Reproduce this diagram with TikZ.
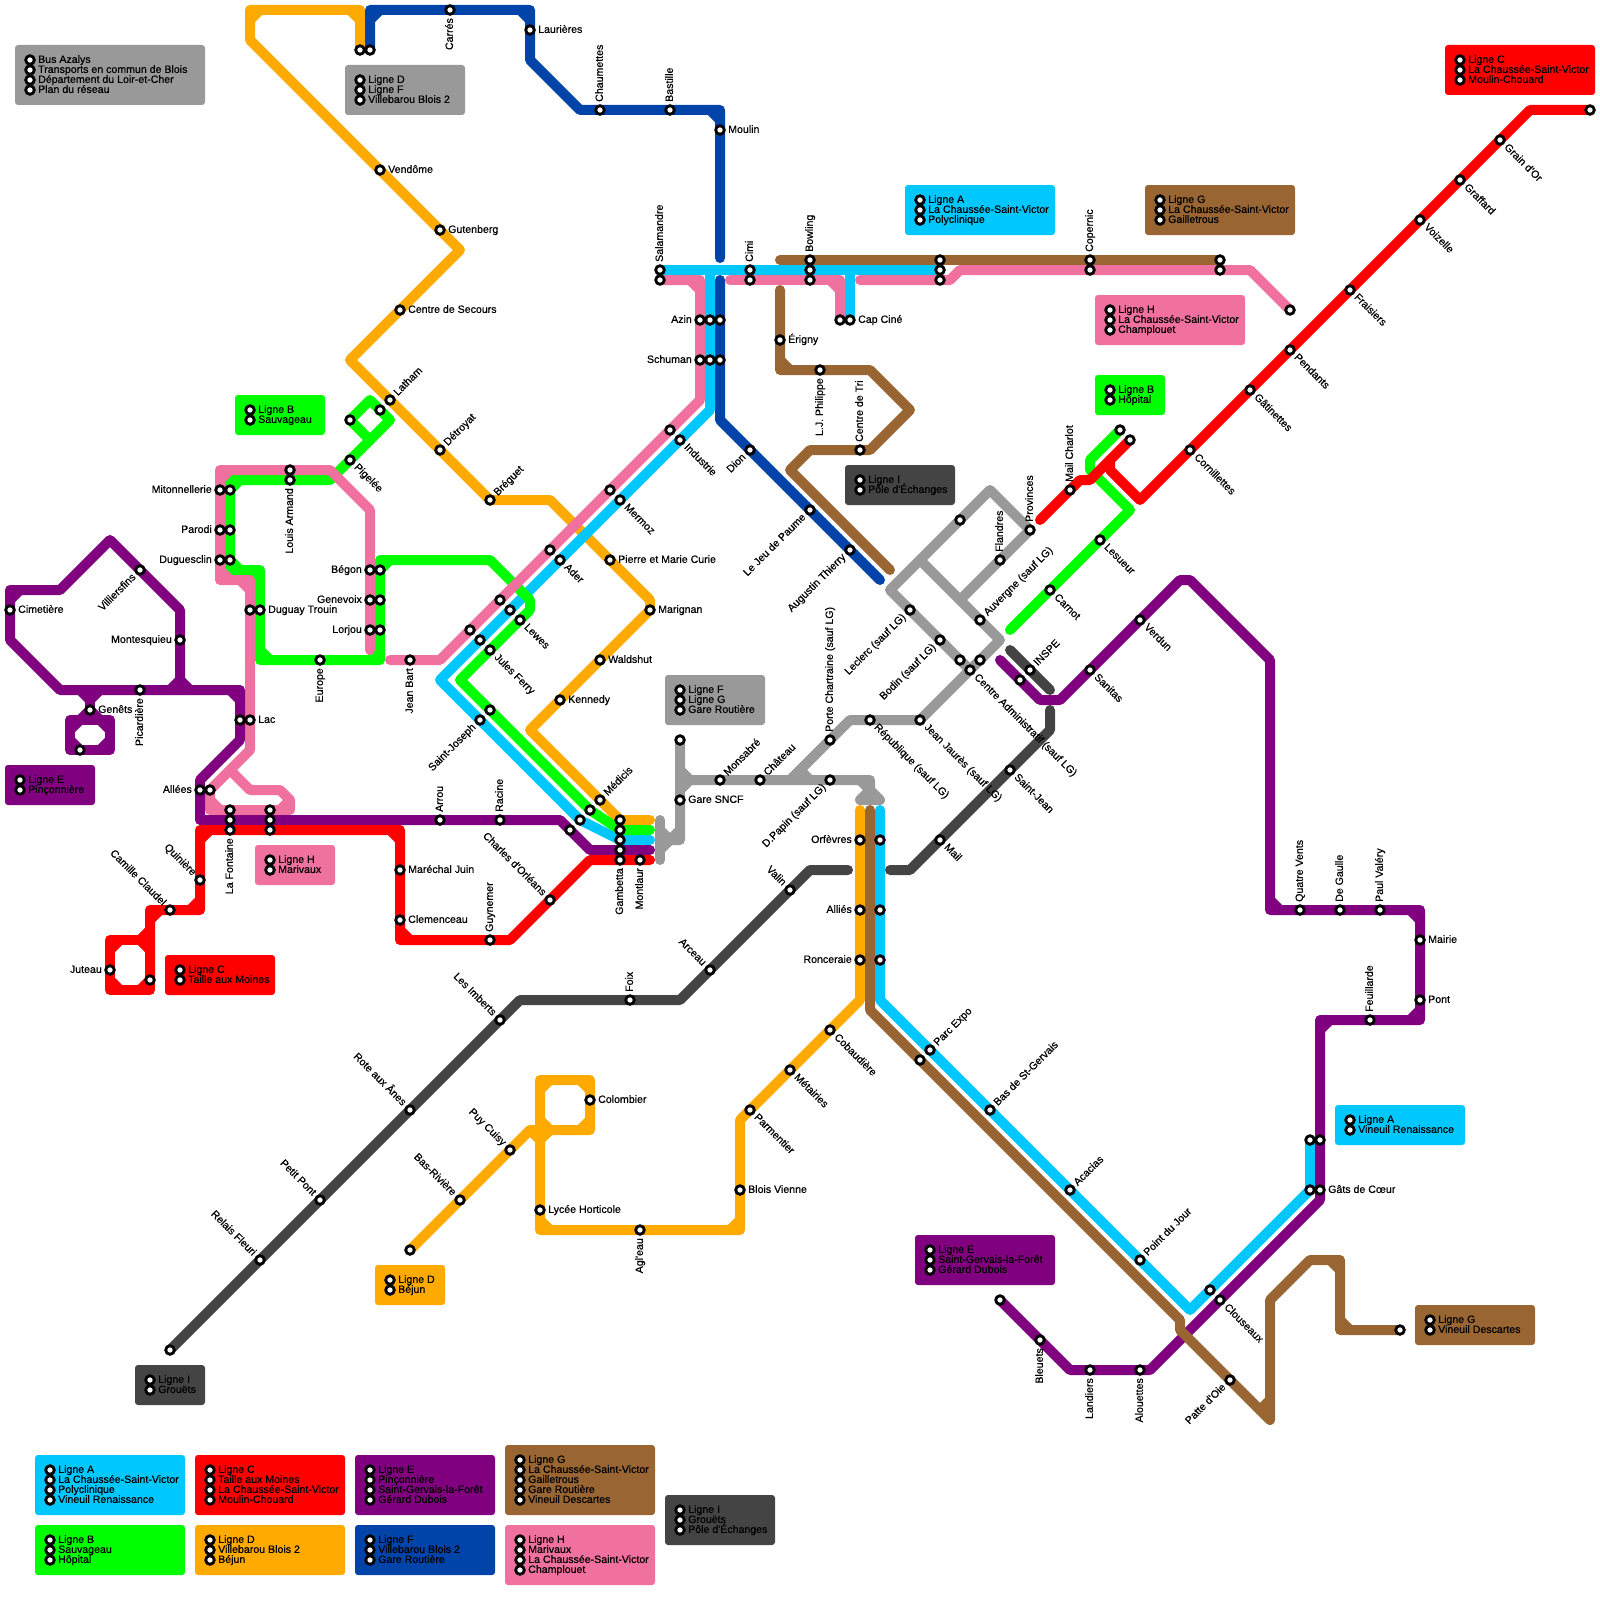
\documentclass[tikz,border=0pt]{standalone}
\usepackage{fontspec}
\usetikzlibrary{backgrounds}
\newfontfamily\stnfont{Liberation Sans}[FakeBold=0.6]
\definecolor{LineA}{HTML}{00C8FF}
\definecolor{LineB}{HTML}{00FF00}
\definecolor{LineC}{HTML}{FF0000}
\definecolor{LineD}{HTML}{FFAA00}
\definecolor{LineE}{HTML}{800080}
\definecolor{LineF}{HTML}{0044AA}
\definecolor{LineG}{HTML}{996633}
\definecolor{LineH}{HTML}{F0719F}
\definecolor{LineI}{HTML}{444444}
\definecolor{LineX}{HTML}{999999}
\tikzset{
  metro/.style={line width=10pt,line cap=round,line join=round},
  stn/.style={circle,draw=black,fill=white,line width=2.8pt,minimum size=8.6pt,inner sep=0pt,outer sep=0pt},
  lab/.style={font=\stnfont\fontsize{10.6pt}{12pt}\selectfont,inner sep=0pt,text height=5.8pt,text depth=0pt},
  lblE/.style={label={[lab,anchor=west,xshift=3.7pt]0:#1}},
  lblW/.style={label={[lab,anchor=east,xshift=-3.7pt]180:#1}},
  lblN/.style={label={[lab,rotate=90,anchor=west,xshift=3.7pt]90:#1}},
  lblS/.style={label={[lab,rotate=90,anchor=east,xshift=-3.7pt]-90:#1}},
  lblNE/.style={label={[lab,rotate=45,anchor=west,xshift=3.7pt]45:#1}},
  lblSE/.style={label={[lab,rotate=-45,anchor=west,xshift=3.7pt]-45:#1}},
  lblSW/.style={label={[lab,rotate=45,anchor=east,xshift=-3.7pt]225:#1}},
  lblNW/.style={label={[lab,rotate=-45,anchor=east,xshift=-3.7pt]135:#1}},
  label distance=0pt
}
\newcommand{\metroline}[2]{\draw[metro,#1] #2;}
% inner bevel of a square corner: corner x, corner y, arm directions
\newcommand{\metrobevel}[2]{%
  \foreach \x/\y/\dx/\dy in {#2}
    {\draw[metro,#1] ({\x+\dx},\y) -- (\x,{\y+\dy});}
}
\newcommand{\legendbox}[7]{%
  \fill[#6,rounded corners=3pt] (#2,#3) rectangle (#4,#5);
  \foreach \entry [count=\i] in {#7} {
    \node[stn] (#1s\i) at ({#2+1.5},{#3+\i+0.5}) {};
    \node[lab,anchor=west] (#1t\i) at ({#2+2.3},{#3+\i+0.5}) {\entry};
  }
}
\begin{document}
\begin{tikzpicture}[x=10pt,y=-10pt]
  \useasboundingbox (0,0) rectangle (160,160);
  % legends
  \legendbox{legBus}{1.5}{4.5}{20.5}{10.5}{LineX}{Bus Azalys,Transports en commun de Blois,Département du Loir-et-Cher,Plan du réseau}
  \legendbox{legDF}{34.5}{6.5}{46.5}{11.5}{LineX}{Ligne D,Ligne F,Villebarou Blois 2}
  \legendbox{legCtop}{144.5}{4.5}{159.5}{9.5}{LineC}{Ligne C,La Chaussée-Saint-Victor,Moulin-Chouard}
  \legendbox{legApoly}{90.5}{18.5}{105.5}{23.5}{LineA}{Ligne A,La Chaussée-Saint-Victor,Polyclinique}
  \legendbox{legGgail}{114.5}{18.5}{129.5}{23.5}{LineG}{Ligne G,La Chaussée-Saint-Victor,Gailletrous}
  \legendbox{legHchamp}{109.5}{29.5}{124.5}{34.5}{LineH}{Ligne H,La Chaussée-Saint-Victor,Champlouet}
  \legendbox{legBhop}{109.5}{37.5}{116.5}{41.5}{LineB}{Ligne B,Hôpital}
  \legendbox{legBsauv}{23.5}{39.5}{32.5}{43.5}{LineB}{Ligne B,Sauvageau}
  \legendbox{legIpole}{84.5}{46.5}{95.5}{50.5}{LineI}{Ligne I,Pôle d'Échanges}
  \legendbox{legFG}{66.5}{67.5}{76.5}{72.5}{LineX}{Ligne F,Ligne G,Gare Routière}
  \legendbox{legEpin}{0.5}{76.5}{9.5}{80.5}{LineE}{Ligne E,Pinçonnière}
  \legendbox{legHmar}{25.5}{84.5}{33.5}{88.5}{LineH}{Ligne H,Marivaux}
  \legendbox{legCtaille}{16.5}{95.5}{27.5}{99.5}{LineC}{Ligne C,Taille aux Moines}
  \legendbox{legAvin}{133.5}{110.5}{146.5}{114.5}{LineA}{Ligne A,Vineuil Renaissance}
  \legendbox{legEsg}{91.5}{123.5}{105.5}{128.5}{LineE}{Ligne E,Saint-Gervais-la-Forêt,Gérard Dubois}
  \legendbox{legDbej}{37.5}{126.5}{44.5}{130.5}{LineD}{Ligne D,Béjun}
  \legendbox{legGvin}{141.5}{130.5}{153.5}{134.5}{LineG}{Ligne G,Vineuil Descartes}
  \legendbox{legIgro}{13.5}{136.5}{20.5}{140.5}{LineI}{Ligne I,Grouëts}
  \legendbox{keyA}{3.5}{145.5}{18.5}{151.5}{LineA}{Ligne A,La Chaussée-Saint-Victor,Polyclinique,Vineuil Renaissance}
  \legendbox{keyC}{19.5}{145.5}{34.5}{151.5}{LineC}{Ligne C,Taille aux Moines,La Chaussée-Saint-Victor,Moulin-Chouard}
  \legendbox{keyE}{35.5}{145.5}{49.5}{151.5}{LineE}{Ligne E,Pinçonnière,Saint-Gervais-la-Forêt,Gérard Dubois}
  \legendbox{keyG}{50.5}{144.5}{65.5}{151.5}{LineG}{Ligne G,La Chaussée-Saint-Victor,Gailletrous,Gare Routière,Vineuil Descartes}
  \legendbox{keyI}{66.5}{149.5}{77.5}{154.5}{LineI}{Ligne I,Grouëts,Pôle d'Échanges}
  \legendbox{keyB}{3.5}{152.5}{18.5}{157.5}{LineB}{Ligne B,Sauvageau,Hôpital}
  \legendbox{keyD}{19.5}{152.5}{34.5}{157.5}{LineD}{Ligne D,Villebarou Blois 2,Béjun}
  \legendbox{keyF}{35.5}{152.5}{49.5}{157.5}{LineF}{Ligne F,Villebarou Blois 2,Gare Routière}
  \legendbox{keyH}{50.5}{152.5}{65.5}{158.5}{LineH}{Ligne H,Marivaux,La Chaussée-Saint-Victor,Champlouet}
  % stations without a label
  \foreach \nm/\x/\y in {
      termD/36/5,termF/37/5,pinc/8/75,diamL/35/42,diamR/38/41,
      armandH/29/47,salamH/66/28,cimiH/75/28,bowlA/81/27,bowlH/81/28,
      hubG/94/26,hubA/94/27,hubH/94/28,copH/109/27,gailG/122/26,gailH/122/27,
      champ/129/31,azinF/72/32,azinA/71/32,schuF/72/36,schuA/71/36,capH/84/32,
      miton/23/49,paroB/23/53,dugueB/23/56,duguayH/25/61,begonB/38/57,genevB/38/60,lorjB/38/63,
      lacE/24/72,alleesH/21/79,fontH/23/81,fontE/23/82,marH/27/81,marE/27/82,marC/27/83,
      ferryH/47/63,ferryA/48/64,lewesH/50/60,lewesA/51/61,aderH/55/55,mermH/61/49,indH/67/43,
      josephB/49/71,medE/57/83,medA/58/82,medB/59/81,
      gambD/62/82,gambB/62/83,gambA/62/84,gambE/62/85,
      garR/68/74,orfA/88/84,allA/88/91,ronA/88/96,
      gervG/92/106,gatsA/131/119,vinA/131/114,vinE/132/114,clouA/121/129,
      dubois/100/130,descartes/140/133,bejun/41/125,
      prov1/96/52,admL/96/66,admR/98/66,inspeE/102/68,
      hopB/112/43,hopC/113/44,mouC/159/11,grou/17/135}
    {\node[stn] (\nm) at (\x,\y) {};}
  % stations with a label
  \node[stn,lblS={Carrés}] (carres) at (45,1) {};
  \node[stn,lblE={Laurières}] (laurieres) at (53,3) {};
  \node[stn,lblN={Chaumettes}] (chaumettes) at (60,11) {};
  \node[stn,lblN={Bastille}] (bastille) at (67,11) {};
  \node[stn,lblE={Moulin}] (moulin) at (72,13) {};
  \node[stn,lblW={Azin}] (azinH) at (70,32) {};
  \node[stn,lblW={Schuman}] (schuH) at (70,36) {};
  \node[stn,lblSW={Dion}] (dion) at (75,45) {};
  \node[stn,lblSW={Le Jeu de Paume}] (paume) at (81,51) {};
  \node[stn,lblSW={Augustin Thierry}] (thierry) at (85,55) {};
  \node[stn,lblE={Vendôme}] (vendome) at (38,17) {};
  \node[stn,lblE={Gutenberg}] (gutenberg) at (44,23) {};
  \node[stn,lblE={Centre de Secours}] (secours) at (40,31) {};
  \node[stn,lblNE={Latham}] (latham) at (39,40) {};
  \node[stn,lblNE={Détroyat}] (detroyat) at (44,45) {};
  \node[stn,lblNE={Bréguet}] (breguet) at (49,50) {};
  \node[stn,lblE={Pierre et Marie Curie}] (curie) at (61,56) {};
  \node[stn,lblE={Marignan}] (marignan) at (65,61) {};
  \node[stn,lblE={Waldshut}] (waldshut) at (60,66) {};
  \node[stn,lblE={Kennedy}] (kennedy) at (56,70) {};
  \node[stn,lblNE={Médicis}] (medicis) at (60,80) {};
  \node[stn,lblE={Colombier}] (colombier) at (59,110) {};
  \node[stn,lblE={Lycée Horticole}] (lycee) at (54,121) {};
  \node[stn,lblS={Agl'eau}] (agleau) at (64,123) {};
  \node[stn,lblE={Blois Vienne}] (vienne) at (74,119) {};
  \node[stn,lblSE={Parmentier}] (parmentier) at (75,111) {};
  \node[stn,lblSE={Métairies}] (metairies) at (79,107) {};
  \node[stn,lblSE={Cobaudière}] (cobaudiere) at (83,103) {};
  \node[stn,lblNW={Puy Cuisy}] (cuisy) at (51,115) {};
  \node[stn,lblNW={Bas-Rivière}] (riviere) at (46,120) {};
  \node[stn,lblSE={Pigelée}] (pigelee) at (35,46) {};
  \node[stn,lblS={Louis Armand}] (armand) at (29,48) {};
  \node[stn,lblW={Mitonnellerie}] (mitonH) at (22,49) {};
  \node[stn,lblW={Parodi}] (parodi) at (22,53) {};
  \node[stn,lblW={Duguesclin}] (duguesclin) at (22,56) {};
  \node[stn,lblE={Duguay Trouin}] (duguay) at (26,61) {};
  \node[stn,lblS={Europe}] (europe) at (32,66) {};
  \node[stn,lblW={Bégon}] (begon) at (37,57) {};
  \node[stn,lblW={Genevoix}] (genevoix) at (37,60) {};
  \node[stn,lblW={Lorjou}] (lorjou) at (37,63) {};
  \node[stn,lblS={Jean Bart}] (jeanbart) at (41,66) {};
  \node[stn,lblE={Lac}] (lac) at (25,72) {};
  \node[stn,lblW={Allées}] (allees) at (20,79) {};
  \node[stn,lblS={La Fontaine}] (fontaine) at (23,83) {};
  \node[stn,lblSE={Industrie}] (industrie) at (68,44) {};
  \node[stn,lblSE={Mermoz}] (mermoz) at (62,50) {};
  \node[stn,lblSE={Ader}] (ader) at (56,56) {};
  \node[stn,lblSE={Lewes}] (lewes) at (52,62) {};
  \node[stn,lblSE={Jules Ferry}] (ferry) at (49,65) {};
  \node[stn,lblSW={Saint-Joseph}] (joseph) at (48,72) {};
  \node[stn,lblN={Arrou}] (arrou) at (44,82) {};
  \node[stn,lblN={Racine}] (racine) at (50,82) {};
  \node[stn,lblNW={Charles d'Orléans}] (orleans) at (55,90) {};
  \node[stn,lblN={Guynemer}] (guynemer) at (49,94) {};
  \node[stn,lblE={Maréchal Juin}] (juin) at (40,87) {};
  \node[stn,lblE={Clemenceau}] (clemenceau) at (40,92) {};
  \node[stn,lblS={Gambetta}] (gambetta) at (62,86) {};
  \node[stn,lblS={Montlaur}] (montlaur) at (64,86) {};
  \node[stn,lblNW={Quinière}] (quiniere) at (20,88) {};
  \node[stn,lblNW={Camille Claudel}] (claudel) at (17,91) {};
  \node[stn,lblW={Juteau}] (juteau) at (11,97) {};
  \node[stn] (taille) at (15,98) {};
  \node[stn,lblS={Picardière}] (picardiere) at (14,69) {};
  \node[stn,lblE={Genêts}] (genets) at (9,71) {};
  \node[stn,lblSW={Villiersfins}] (villiersfins) at (14,57) {};
  \node[stn,lblW={Montesquieu}] (montesquieu) at (18,64) {};
  \node[stn,lblE={Cimetière}] (cimetiere) at (1,61) {};
  \node[stn,lblE={Gare SNCF}] (sncf) at (68,80) {};
  \node[stn,lblNE={Monsabré}] (monsabre) at (72,78) {};
  \node[stn,lblNE={Château}] (chateau) at (76,78) {};
  \node[stn,lblSW={D.Papin (sauf LG)}] (papin) at (83,78) {};
  \node[stn,lblN={Porte Chartraine (sauf LG)}] (chartraine) at (83,74) {};
  \node[stn,lblSE={République (sauf LG)}] (republique) at (87,72) {};
  \node[stn,lblSE={Jean Jaurès (sauf LG)}] (jaures) at (92,72) {};
  \node[stn,lblSW={Leclerc (sauf LG)}] (leclerc) at (91,61) {};
  \node[stn,lblSW={Bodin (sauf LG)}] (bodin) at (94,64) {};
  \node[stn,lblSE={Centre Administratif (sauf LG)}] (admin) at (97,67) {};
  \node[stn,lblNE={Auvergne (sauf LG)}] (auvergne) at (98,62) {};
  \node[stn,lblN={Flandres}] (flandres) at (100,56) {};
  \node[stn,lblN={Provinces}] (provinces) at (103,53) {};
  \node[stn,lblN={Mail Charlot}] (charlot) at (107,49) {};
  \node[stn,lblE={Érigny}] (erigny) at (78,34) {};
  \node[stn,lblS={L.J. Philippe}] (philippe) at (82,37) {};
  \node[stn,lblN={Centre de Tri}] (centretri) at (86,45) {};
  \node[stn,lblN={Bowling}] (bowling) at (81,26) {};
  \node[stn,lblN={Cimi}] (cimi) at (75,27) {};
  \node[stn,lblN={Salamandre}] (salamandre) at (66,27) {};
  \node[stn,lblN={Copernic}] (copernic) at (109,26) {};
  \node[stn,lblE={Cap Ciné}] (capcine) at (85,32) {};
  \node[stn,lblNW={Les Imberts}] (imberts) at (50,102) {};
  \node[stn,lblNW={Rote aux Ânes}] (anes) at (41,111) {};
  \node[stn,lblNW={Petit Pont}] (petitpont) at (32,120) {};
  \node[stn,lblNW={Relais Fleuri}] (fleuri) at (26,126) {};
  \node[stn,lblN={Foix}] (foix) at (63,100) {};
  \node[stn,lblNW={Arceau}] (arceau) at (71,97) {};
  \node[stn,lblNW={Valin}] (valin) at (79,89) {};
  \node[stn,lblSE={Mail}] (mail) at (94,84) {};
  \node[stn,lblSE={Saint-Jean}] (saintjean) at (101,77) {};
  \node[stn,lblNE={INSPE}] (inspe) at (103,67) {};
  \node[stn,lblSE={Carnot}] (carnot) at (105,59) {};
  \node[stn,lblSE={Lesueur}] (lesueur) at (110,54) {};
  \node[stn,lblSE={Cornillettes}] (cornillettes) at (119,45) {};
  \node[stn,lblSE={Gâtinettes}] (gatinettes) at (125,39) {};
  \node[stn,lblSE={Pendants}] (pendants) at (129,35) {};
  \node[stn,lblSE={Fraisiers}] (fraisiers) at (135,29) {};
  \node[stn,lblSE={Voizelle}] (voizelle) at (142,22) {};
  \node[stn,lblSE={Graffard}] (graffard) at (146,18) {};
  \node[stn,lblSE={Grain d'Or}] (grainor) at (150,14) {};
  \node[stn,lblSE={Sanitas}] (sanitas) at (109,67) {};
  \node[stn,lblSE={Verdun}] (verdun) at (114,62) {};
  \node[stn,lblN={Quatre Vents}] (quatrevents) at (130,91) {};
  \node[stn,lblN={De Gaulle}] (degaulle) at (134,91) {};
  \node[stn,lblN={Paul Valéry}] (valery) at (138,91) {};
  \node[stn,lblE={Mairie}] (mairie) at (142,94) {};
  \node[stn,lblE={Pont}] (pont) at (142,100) {};
  \node[stn,lblN={Feuillarde}] (feuillarde) at (137,102) {};
  \node[stn,lblE={Gâts de Cœur}] (gats) at (132,119) {};
  \node[stn,lblSE={Clouseaux}] (clouseaux) at (122,130) {};
  \node[stn,lblS={Alouettes}] (alouettes) at (114,137) {};
  \node[stn,lblS={Landiers}] (landiers) at (109,137) {};
  \node[stn,lblS={Bleuets}] (bleuets) at (104,134) {};
  \node[stn,lblSW={Patte d'Oie}] (patte) at (123,138) {};
  \node[stn,lblNE={Parc Expo}] (parcexpo) at (93,105) {};
  \node[stn,lblNE={Bas de St-Gervais}] (stgervais) at (99,111) {};
  \node[stn,lblNE={Acacias}] (acacias) at (107,119) {};
  \node[stn,lblNE={Point du Jour}] (pointjour) at (114,126) {};
  \node[stn,lblW={Orfèvres}] (orfevres) at (86,84) {};
  \node[stn,lblW={Alliés}] (allies) at (86,91) {};
  \node[stn,lblW={Ronceraie}] (ronceraie) at (86,96) {};
  % free ends of the lines
  \coordinate (endD) at (65,82);
  \coordinate (endB) at (65,83);
  \coordinate (endA) at (65,84);
  \coordinate (endE) at (65,85);
  \coordinate (endC) at (65,86);
  \coordinate (endF) at (72,25.8);
  \coordinate (startF) at (72,28);
  \coordinate (endFb) at (88,58);
  \coordinate (startH) at (39,66);
  \coordinate (endH) at (37,65);
  \coordinate (startHb) at (73,28);
  \coordinate (startHc) at (86,28);
  \coordinate (startGa) at (78,29);
  \coordinate (endGa) at (89,57);
  \coordinate (trunkD) at (86,81);
  \coordinate (trunkG) at (87,81);
  \coordinate (trunkA) at (88,81);
  \coordinate (endIa) at (84.8,87);
  \coordinate (startIb) at (89,87);
  \coordinate (endIb) at (105,71);
  \coordinate (startIc) at (101,65);
  \coordinate (endIc) at (105,69);
  \coordinate (startBb) at (101,63);
  \coordinate (startCb) at (104,52);
  \coordinate (startEb) at (100,66);
  \begin{pgfonlayer}{background}
    % gray group
    \metroline{LineX}{(garR.center) -- (sncf.center) -- (68,84) -- (67,84) -- (66,85)}
    \metroline{LineX}{(66,82) -- (66,86)}
    \metroline{LineX}{(66,83) -- (67,84)}
    \metroline{LineX}{(68,77) -- (69,78) -- (68,79)}
    \metroline{LineX}{(68,78) -- (monsabre.center) -- (chateau.center) -- (papin.center) -- (87,78) -- (87,79) -- (86,80) -- (88,80) -- (87,79)}
    \metroline{LineX}{(79,78) -- (chartraine.center) -- (85,72) -- (republique.center) -- (jaures.center) -- (admin.center) -- (100,64) -- (auvergne.center) -- (92,56)}
    \metroline{LineX}{(80,77) -- (81,78)}
    \metroline{LineX}{(admin.center) -- (bodin.center) -- (leclerc.center) -- (89,59) -- (prov1.center) -- (99,49) -- (provinces.center) -- (flandres.center) -- (96,60)}
    \metrobevel{LineX}{68/84/-1/-1,87/78/-1/1}
    % line I
    \metroline{LineI}{(grou.center) -- (fleuri.center) -- (petitpont.center) -- (anes.center) -- (imberts.center) -- (52,100) -- (foix.center) -- (68,100) -- (arceau.center) -- (valin.center) -- (81,87) -- (endIa)}
    \metroline{LineI}{(startIb) -- (91,87) -- (mail.center) -- (saintjean.center) -- (105,73) -- (endIb)}
    \metroline{LineI}{(startIc) -- (inspe.center) -- (endIc)}
    % line D
    \metroline{LineD}{(termD.center) -- (36,1) -- (25,1) -- (25,4) -- (vendome.center) -- (gutenberg.center) -- (46,25) -- (secours.center) -- (35,36) -- (latham.center) -- (detroyat.center) -- (breguet.center) -- (55,50) -- (curie.center) -- (65,60) -- (marignan.center) -- (waldshut.center) -- (kennedy.center) -- (53,73) -- (medicis.center) -- (gambD.center) -- (endD)}
    \metroline{LineD}{(trunkD) -- (orfevres.center) -- (allies.center) -- (ronceraie.center) -- (86,100) -- (cobaudiere.center) -- (metairies.center) -- (parmentier.center) -- (74,112) -- (vienne.center) -- (74,123) -- (agleau.center) -- (54,123) -- (lycee.center) -- (54,108) -- (59,108) -- (colombier.center) -- (59,113) -- (53,113) -- (cuisy.center) -- (riviere.center) -- (bejun.center)}
    \metroline{LineD}{(53,113) -- (54,114) -- (55,113)}
    \metrobevel{LineD}{36/1/-1/1,25/1/1/1,74/123/-1/-1,54/123/1/-1,54/108/1/1,59/108/-1/1,59/113/-1/-1,54/113/1/-1}
    % line F
    \metroline{LineF}{(termF.center) -- (37,1) -- (carres.center) -- (53,1) -- (laurieres.center) -- (53,6) -- (58,11) -- (chaumettes.center) -- (bastille.center) -- (72,11) -- (moulin.center) -- (endF)}
    \metroline{LineF}{(startF) -- (azinF.center) -- (schuF.center) -- (72,42) -- (dion.center) -- (paume.center) -- (thierry.center) -- (endFb)}
    \metrobevel{LineF}{37/1/1/1,53/1/-1/1,72/11/-1/1}
    % line A
    \metroline{LineA}{(salamandre.center) -- (cimi.center) -- (bowlA.center) -- (hubA.center)}
    \metroline{LineA}{(85,27) -- (capcine.center)}
    \metroline{LineA}{(71,27) -- (azinA.center) -- (schuA.center) -- (71,41) -- (industrie.center) -- (mermoz.center) -- (ader.center) -- (lewesA.center) -- (ferryA.center) -- (44,68) -- (joseph.center) -- (medA.center) -- (gambA.center) -- (endA)}
    \metroline{LineA}{(trunkA) -- (orfA.center) -- (allA.center) -- (ronA.center) -- (88,100) -- (parcexpo.center) -- (stgervais.center) -- (acacias.center) -- (pointjour.center) -- (119,131) -- (clouA.center) -- (gatsA.center) -- (vinA.center)}
    % line B
    \metroline{LineB}{(diamL.center) -- (37,40) -- (diamR.center) -- (39,42) -- (pigelee.center) -- (33,48) -- (armand.center) -- (23,48) -- (miton.center) -- (paroB.center) -- (dugueB.center) -- (23,57) -- (26,57) -- (duguay.center) -- (26,66) -- (europe.center) -- (38,66) -- (lorjB.center) -- (genevB.center) -- (begonB.center) -- (38,56) -- (49,56) -- (53,60) -- (53,61) -- (lewes.center) -- (ferry.center) -- (46,68) -- (josephB.center) -- (medB.center) -- (gambB.center) -- (endB)}
    \metroline{LineB}{(diamL.center) -- (37,44)}
    \metroline{LineB}{(startBb) -- (carnot.center) -- (lesueur.center) -- (113,51) -- (109,47) -- (109,46) -- (hopB.center)}
    \metrobevel{LineB}{23/48/1/1,23/57/1/-1,26/57/-1/1,26/66/1/-1,38/66/-1/-1,38/56/1/1}
    % line H
    \metroline{LineH}{(endH) -- (lorjou.center) -- (genevoix.center) -- (begon.center) -- (37,51) -- (33,47) -- (armandH.center) -- (22,47) -- (mitonH.center) -- (parodi.center) -- (duguesclin.center) -- (22,58) -- (25,58) -- (duguayH.center) -- (lac.center) -- (25,75) -- (alleesH.center) -- (21,81) -- (fontH.center) -- (marH.center) -- (29,81) -- (29,80) -- (28,79) -- (25,79) -- (23,77)}
    \metroline{LineH}{(startH) -- (jeanbart.center) -- (44,66) -- (ferryH.center) -- (lewesH.center) -- (aderH.center) -- (mermH.center) -- (indH.center) -- (70,40) -- (schuH.center) -- (azinH.center) -- (70,28) -- (salamH.center)}
    \metroline{LineH}{(startHb) -- (cimiH.center) -- (bowlH.center) -- (84,28) -- (capH.center)}
    \metroline{LineH}{(startHc) -- (hubH.center) -- (95,28) -- (96,27) -- (copH.center) -- (gailH.center) -- (125,27) -- (champ.center)}
    \metrobevel{LineH}{22/47/1/1,22/58/1/-1,25/58/-1/1,21/81/1/-1,29/81/-1/-1,70/28/-1/1,84/28/-1/1}
    % line E
    \metroline{LineE}{(pinc.center) -- (7,75) -- (7,72) -- (11,72) -- (11,75) -- (pinc.center)}
    \metroline{LineE}{(8,72) -- (9,71) -- (10,72)}
    \metroline{LineE}{(8,69) -- (9,70) -- (10,69)}
    \metroline{LineE}{(9,69) -- (genets.center) -- (9,72)}
    \metroline{LineE}{(17,69) -- (18,68) -- (19,69)}
    \metroline{LineE}{(18,69) -- (montesquieu.center) -- (18,61) -- (villiersfins.center) -- (11,54) -- (6,59) -- (1,59) -- (cimetiere.center) -- (1,64) -- (6,69) -- (picardiere.center) -- (24,69) -- (lacE.center) -- (24,74) -- (20,78) -- (allees.center) -- (20,82) -- (fontE.center) -- (marE.center) -- (arrou.center) -- (racine.center) -- (56,82) -- (medE.center) -- (59,85) -- (gambE.center) -- (endE)}
    \metroline{LineE}{(startEb) -- (inspeE.center) -- (104,70) -- (106,70) -- (sanitas.center) -- (verdun.center) -- (118,58) -- (119,58) -- (127,66) -- (127,91) -- (quatrevents.center) -- (degaulle.center) -- (valery.center) -- (142,91) -- (mairie.center) -- (pont.center) -- (142,102) -- (feuillarde.center) -- (132,102) -- (vinE.center) -- (gats.center) -- (132,120) -- (clouseaux.center) -- (115,137) -- (alouettes.center) -- (landiers.center) -- (107,137) -- (bleuets.center) -- (dubois.center)}
    \metrobevel{LineE}{7/75/1/-1,7/72/1/1,11/72/-1/1,11/75/-1/-1,24/69/-1/1,1/59/1/1,127/91/1/-1,142/91/-1/1,142/102/-1/-1,132/102/1/1}
    % line C
    \metroline{LineC}{(taille.center) -- (15,99) -- (11,99) -- (juteau.center) -- (11,94) -- (15,94)}
    \metroline{LineC}{(14,94) -- (15,93)}
    \metroline{LineC}{(taille.center) -- (15,91) -- (claudel.center) -- (20,91) -- (quiniere.center) -- (20,83) -- (fontaine.center) -- (marC.center) -- (40,83) -- (juin.center) -- (clemenceau.center) -- (40,94) -- (guynemer.center) -- (51,94) -- (orleans.center) -- (59,86) -- (gambetta.center) -- (montlaur.center) -- (endC)}
    \metroline{LineC}{(startCb) -- (charlot.center) -- (108,48) -- (109,48) -- (hopC.center)}
    \metroline{LineC}{(111,46) -- (111,47) -- (114,50) -- (cornillettes.center) -- (gatinettes.center) -- (pendants.center) -- (fraisiers.center) -- (voizelle.center) -- (graffard.center) -- (grainor.center) -- (153,11) -- (mouC.center)}
    \metrobevel{LineC}{15/99/-1/-1,11/99/1/-1,11/94/1/1,15/94/-1/1,15/91/1/1,20/91/-1/-1,20/83/1/1,40/83/-1/1,40/94/1/-1}
    % line G
    \metroline{LineG}{(78,26) -- (bowling.center) -- (hubG.center) -- (copernic.center) -- (gailG.center)}
    \metroline{LineG}{(startGa) -- (erigny.center) -- (78,37) -- (philippe.center) -- (87,37) -- (91,41) -- (87,45) -- (centretri.center) -- (81,45) -- (79,47) -- (endGa)}
    \metroline{LineG}{(trunkG) -- (87,101) -- (gervG.center) -- (118,132) -- (118,133) -- (patte.center) -- (127,142) -- (127,130) -- (131,126) -- (134,126) -- (134,133) -- (descartes.center)}
    \metrobevel{LineG}{78/37/1/-1,134/126/-1/1,134/133/1/-1,127/141/-1/-1}
  \end{pgfonlayer}
\end{tikzpicture}
\end{document}
